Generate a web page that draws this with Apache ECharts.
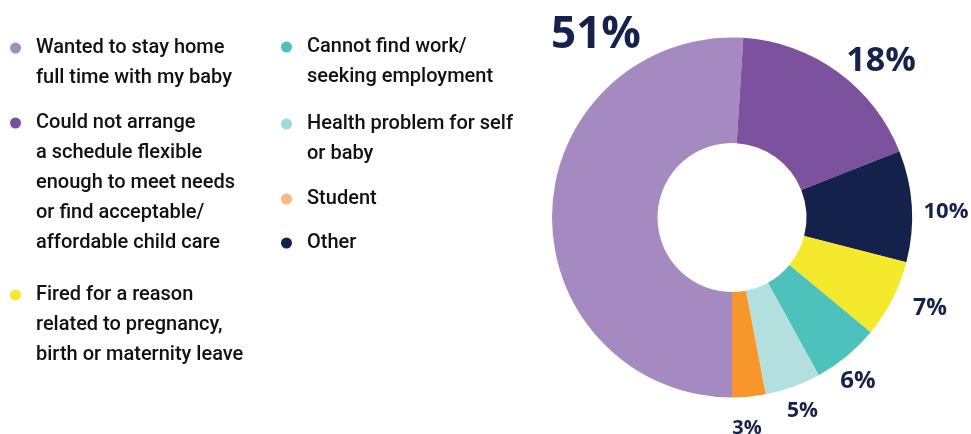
<!DOCTYPE html>
<html>
<head>
<meta charset="utf-8">
<title>Reasons for leaving work</title>
<script src="https://cdn.jsdelivr.net/npm/echarts@6/dist/echarts.min.js"></script>
<style>
  html, body { margin: 0; padding: 0; background: #ffffff; }
  #chart { width: 971px; height: 434px; }
</style>
</head>
<body>
<div id="chart"></div>
<script>
// Reasons, in the order they go round the ring (clockwise from the bottom)
const reasons = [
  'Wanted to stay home full time with my baby',
  'Could not arrange a schedule flexible enough to meet needs or find acceptable/affordable child care',
  'Other',
  'Fired for a reason related to pregnancy, birth or maternity leave',
  'Cannot find work/seeking employment',
  'Health problem for self or baby',
  'Student'
];
const shares = [51, 18, 10, 7, 6, 5, 3];

// Legend rows: which reason each row names, and the lines it is set in
const legendReason = [0, 1, 3, 4, 5, 6, 2];
const legendLines = [
  ['Wanted to stay home', 'full time with my baby'],
  ['Could not arrange', 'a schedule flexible', 'enough to meet needs', 'or find acceptable/', 'affordable child care'],
  ['Fired for a reason', 'related to pregnancy,', 'birth or maternity leave'],
  ['Cannot find work/', 'seeking employment'],
  ['Health problem for self', 'or baby'],
  ['Student'],
  ['Other']
];

// Styling
const sliceColors = ['#a48ac0', '#7c519e', '#14224b', '#f4e92c', '#4dc1bc', '#b3e0de', '#f6962b'];
const dotColors   = ['#a68bc2', '#7b4f9e', '#f3e92f', '#4cc1bc', '#a1d9d6', '#fdb97d', '#14214a'];
const labelSizes  = [44, 34, 22, 23, 24, 21, 20];
const labelSpots  = [[596, 35], [881, 61], [946, 211.5], [930, 308.5], [858, 381], [802.5, 411.5], [747, 428]];
const legendSpots = [[5, 33], [5, 108], [5, 280], [276, 32], [276, 109], [276, 184], [276, 228]];

const LINE = 30;
const legendFont = "Roboto, 'Liberation Sans', sans-serif";
const labelFont = "'Open Sans', 'Noto Sans', sans-serif";

const rich = {
  t: { fontFamily: legendFont, fontSize: 20, fontWeight: 500, color: '#111111', lineHeight: LINE },
  gap: { width: 15, lineHeight: LINE },
  ind: { width: 26, lineHeight: LINE }
};
dotColors.forEach(function (c, row) {
  rich['d' + row] = { width: 11, height: 11, borderRadius: 5.5, backgroundColor: c, lineHeight: LINE };
});

// Hanging-indent entry: dot on the first line, later lines indented to match
function legendText(row) {
  return legendLines[row].map(function (line, k) {
    return (k === 0 ? '{d' + row + '|}{gap|}' : '{ind|}') + '{t|' + line + '}';
  }).join('\n');
}

const legends = legendReason.map(function (reasonIdx, row) {
  return {
    show: true,
    orient: 'vertical',
    left: legendSpots[row][0],
    top: legendSpots[row][1],
    padding: 0,
    icon: 'none',
    itemWidth: 0,
    itemHeight: 0,
    selectedMode: false,
    data: [reasons[reasonIdx]],
    formatter: function () { return legendText(row); },
    textStyle: { rich: rich, fontFamily: legendFont, fontSize: 20, lineHeight: LINE }
  };
});

const pieData = reasons.map(function (name, i) {
  return {
    name: name,
    value: shares[i],
    itemStyle: { color: sliceColors[i] },
    label: { fontSize: labelSizes[i] }
  };
});

const chart = echarts.init(document.getElementById('chart'), null, { renderer: 'canvas' });
chart.setOption({
  animation: false,
  backgroundColor: '#ffffff',
  legend: legends,
  series: [{
    type: 'pie',
    center: [732, 217.5],
    radius: [74.5, 180],
    startAngle: -90,
    clockwise: true,
    avoidLabelOverlap: false,
    itemStyle: { borderWidth: 0 },
    emphasis: { disabled: true },
    label: {
      show: true,
      position: 'outside',
      formatter: '{c}%',
      color: '#16224c',
      fontFamily: labelFont,
      fontWeight: 700
    },
    labelLine: { show: false },
    labelLayout: function (params) {
      const spot = labelSpots[params.dataIndex];
      return { x: spot[0], y: spot[1], align: 'center', verticalAlign: 'middle' };
    },
    data: pieData
  }]
});
</script>
</body>
</html>
